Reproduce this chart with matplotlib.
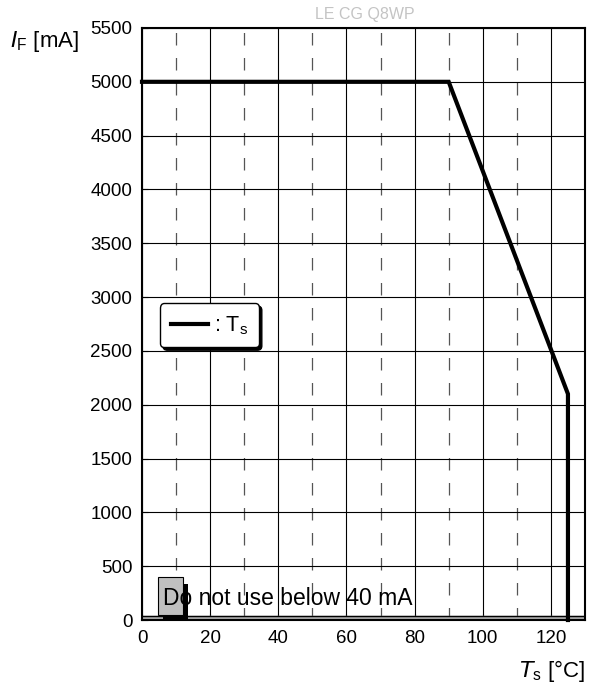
import numpy as np
import matplotlib.pyplot as plt
from matplotlib.patches import Rectangle

plt.rcParams['font.family'] = ['Liberation Sans', 'DejaVu Sans']

# derating curve: T_s [°C] vs I_F [mA]
ts = [0, 90, 125, 125]
i_f = [5000, 5000, 2100, 0]
min_current = 40
x_major = np.arange(0, 121, 20)
x_minor = np.arange(10, 121, 20)
y_ticks = np.arange(0, 5501, 500)

fig = plt.figure(figsize=(5.89, 6.86), dpi=100)
ax = fig.add_axes([0.2411, 0.0962, 0.7521, 0.863])
ax.set_xlim(0, 130)
ax.set_ylim(0, 5500)

# grid
for x in x_major:
    ax.axvline(x, color='black', lw=0.8, zorder=1)
for x in x_minor:
    ax.axvline(x, color='#555555', lw=0.9, ls=(0, (10, 10)), zorder=1)
for y in y_ticks:
    ax.axhline(y, color='black', lw=0.8, zorder=1)

# "do not use" band
ax.fill_between([0, 130], 0, min_current, color='#aaaaaa', zorder=2)
ax.axhline(min_current, color='black', lw=1.0, zorder=3)
ax.axhline(0, color='black', lw=1.0, zorder=3)

ax.plot(ts, i_f, color='black', lw=3.0, solid_joinstyle='miter', zorder=5,
        clip_on=False, label=': T$_\\mathregular{s}$')

# annotation marker box with shadow
ax.add_patch(Rectangle((6.2, -12), 7.3, 350, facecolor='black', zorder=6,
                       clip_on=False))
ax.add_patch(Rectangle((4.7, 45), 7.3, 352, facecolor='#c0c0c0',
                       edgecolor='black', lw=0.8, zorder=7))
ax.text(6.2, 200, 'Do not use below 40 mA', fontsize=16.5, va='center',
        ha='left', zorder=8)

leg = ax.legend(loc='upper left', bbox_to_anchor=(0.041, 0.535), fontsize=15.5,
                handlelength=1.7, handletextpad=0.3, fancybox=True,
                shadow={'color': 'black', 'alpha': 1}, framealpha=1,
                edgecolor='black', borderpad=0.5, borderaxespad=0)
leg.get_frame().set_linewidth(1.0)
leg.set_zorder(10)

ax.set_xticks(x_major)
ax.set_yticks(y_ticks)
ax.tick_params(direction='in', length=4, labelsize=13.5, pad=7)
for s in ax.spines.values():
    s.set_linewidth(1.5)

fig.text(0.017, 0.932, '$\\mathregular{\\mathit{I}_F}$ [mA]', fontsize=16)
fig.text(0.993, 0.013, '$\\mathregular{\\mathit{T}_s}$ [°C]', fontsize=16, ha='right')
fig.text(0.62, 0.973, 'LE CG Q8WP', fontsize=11.5, color='#c4c4c4', ha='center')

fig.savefig('out.png', dpi=100, facecolor='white')
